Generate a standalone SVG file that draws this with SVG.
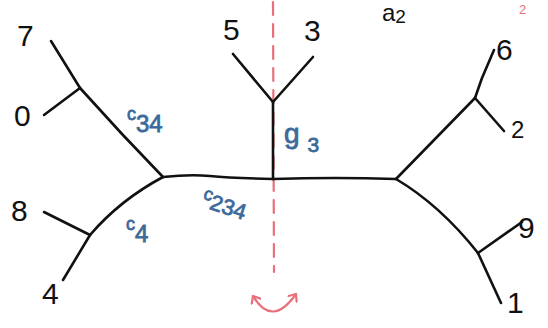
<svg xmlns="http://www.w3.org/2000/svg" width="548" height="328" viewBox="0 0 548 328">
<defs>
<style>
.edge{fill:none;stroke:#111;stroke-width:2.6;stroke-linecap:round;stroke-linejoin:round}
.lbl{font-family:"Liberation Sans","DejaVu Sans",sans-serif;font-size:30px;fill:#111}
.blue{font-family:"Liberation Sans","DejaVu Sans",sans-serif;fill:#3d6a9a;stroke:#3d6a9a;stroke-width:0.8}
.red{fill:none;stroke:#e8707a;stroke-width:2.2;stroke-linecap:round}
</style>
<marker id="ah" markerWidth="12" markerHeight="12" refX="7" refY="6" orient="auto-start-reverse" markerUnits="userSpaceOnUse">
<path d="M1,1 L7,6 L1,11" fill="none" stroke="#e8707a" stroke-width="2.2" stroke-linecap="round" stroke-linejoin="round"/>
</marker>
</defs>
<rect width="548" height="328" fill="#fff"/>
<g id="axis">
<line class="red" x1="273" y1="2" x2="274" y2="272" stroke-dasharray="13,9" stroke-width="2"/>
<path class="red" d="M253,296 Q272,328 296,294" marker-start="url(#ah)" marker-end="url(#ah)"/>
<text x="519" y="14" font-family="Liberation Sans,sans-serif" font-size="13" fill="#e8707a">2</text>
</g>
<g id="connectors">
<path class="edge" d="M51,41 L80,88"/>
<path class="edge" d="M44,115 L80,88"/>
<path class="edge" d="M80,88 L122,134 L163,177"/>
<path class="edge" d="M163,177 Q120,200 90,235"/>
<path class="edge" d="M44,212 L90,235"/>
<path class="edge" d="M90,235 L63,280"/>
<path class="edge" d="M163,177 Q190,174 210,176 T273,179"/>
<path class="edge" d="M273,179 L273,102"/>
<path class="edge" d="M233,54 L273,102"/>
<path class="edge" d="M313,57 L273,102"/>
<path class="edge" d="M273,179 Q335,177 396,179"/>
<path class="edge" d="M396,179 L475,98"/>
<path class="edge" d="M475,98 L482,78 L494,50"/>
<path class="edge" d="M475,98 L504,131"/>
<path class="edge" d="M396,179 Q440,205 478,253"/>
<path class="edge" d="M478,253 L522,222"/>
<path class="edge" d="M478,253 L501,303"/>
</g>
<g id="n7"><text class="lbl" x="17" y="46">7</text></g>
<g id="n0"><text class="lbl" x="14" y="126">0</text></g>
<g id="n5"><text class="lbl" x="223" y="40">5</text></g>
<g id="n3"><text class="lbl" x="304" y="41">3</text></g>
<g id="a2"><text class="lbl" x="382" y="21" style="font-size:24px">a<tspan style="font-size:19px" dy="2">2</tspan></text></g>
<g id="n6"><text class="lbl" x="496" y="60">6</text></g>
<g id="n2"><text class="lbl" x="511" y="138" style="font-size:24px">2</text></g>
<g id="n8"><text class="lbl" x="11" y="221">8</text></g>
<g id="n4"><text class="lbl" x="42" y="304">4</text></g>
<g id="n9"><text class="lbl" x="518" y="238">9</text></g>
<g id="n1"><text class="lbl" x="507" y="313">1</text></g>
<g id="g3"><text class="blue" x="284" y="143" font-size="28">g<tspan font-size="21" dx="8" dy="9">3</tspan></text></g>
<g id="c34"><text class="blue" x="127" y="132" font-size="24"><tspan font-size="18" dy="-12">c</tspan><tspan dy="12">34</tspan></text></g>
<g id="c4"><text class="blue" x="126" y="242" font-size="24"><tspan font-size="18" dy="-12">c</tspan><tspan dy="12">4</tspan></text></g>
<g id="c234"><text class="blue" x="200" y="206" font-size="22" transform="rotate(18 200 206)"><tspan font-size="18" dy="-8">c</tspan><tspan dy="8">234</tspan></text></g>
</svg>
